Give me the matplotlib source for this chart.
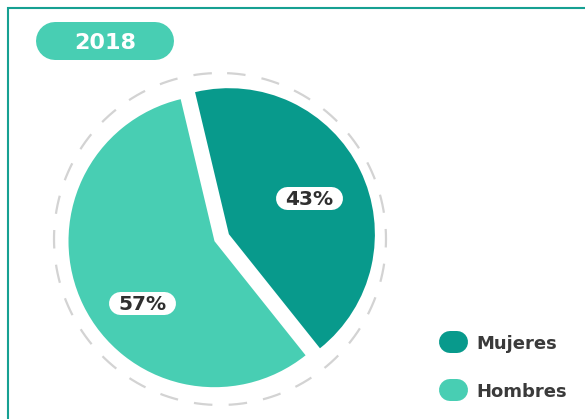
import matplotlib.pyplot as plt
import numpy as np
from matplotlib.patches import Rectangle

# datos
year = "2018"
labels = ["Mujeres", "Hombres"]
values = [43, 57]
colors = ["#089a8c", "#48ceb3"]

W, H = 585, 419

def yy(y):
    # coordenadas de pixel (origen arriba) a datos
    return H - y

def pill(ax, x0, y0, w, h, color, z=3):
    # rectangulo con extremos redondos: linea gruesa con remate redondo
    rr = h / 2
    yc = yy(y0 + rr)
    ax.plot([x0 + rr, x0 + w - rr], [yc, yc], color=color, lw=h * 0.72,
            solid_capstyle="round", zorder=z)

fig = plt.figure(figsize=(W / 100, H / 100), dpi=100)
ax = fig.add_axes([0, 0, 1, 1])

cx, cy, r = 219, yy(239), 146
ax.pie(values, colors=colors, startangle=103.4, counterclock=False,
       explode=[11, 5], center=(cx, cy), radius=r,
       wedgeprops=dict(linewidth=0))

# circulo punteado alrededor
R = 166
t = np.linspace(np.pi / 2, np.pi / 2 + 2 * np.pi, 721)
lw = 1.6
on, off = 18.5 * 0.72 / lw, 16.3 * 0.72 / lw
ax.plot(cx + 1 + R * np.cos(t), cy + R * np.sin(t), color="#d3d3d3", lw=lw,
        ls=(on + off / 2, (on, off)), solid_capstyle="butt")

# etiquetas de porcentaje
label_pos = [(309, 198), (142, 303)]
for v, (px, py) in zip(values, label_pos):
    pill(ax, px - 33.5, py - 11.5, 67, 23, "white", z=3)
    ax.text(px, yy(py), f"{v}%", ha="center", va="center_baseline",
            fontsize=14.5, fontweight="heavy", color="#2f2f2f", zorder=4)

# etiqueta del año
pill(ax, 36, 22, 138, 38, "#48ceb3")
ax.text(105, yy(41), year, ha="center", va="center_baseline",
        fontsize=16, fontweight="bold", color="white", zorder=4)

# leyenda
leg_y = [342, 390]
for lab, col, ly in zip(labels, colors, leg_y):
    pill(ax, 439, ly - 11, 29, 22, col)
    ax.text(476, yy(ly), lab, ha="left", va="center_baseline",
            fontsize=13, fontweight="bold", color="#3a3a3a")

# marco
ax.add_patch(Rectangle((7.5, -20), W + 20, yy(8.5) + 20, fill=False,
                       ec="#16a092", lw=1.5))

ax.set_xlim(0, W)
ax.set_ylim(0, H)
ax.set_aspect("equal")
ax.axis("off")

fig.savefig("out.png", dpi=100)
